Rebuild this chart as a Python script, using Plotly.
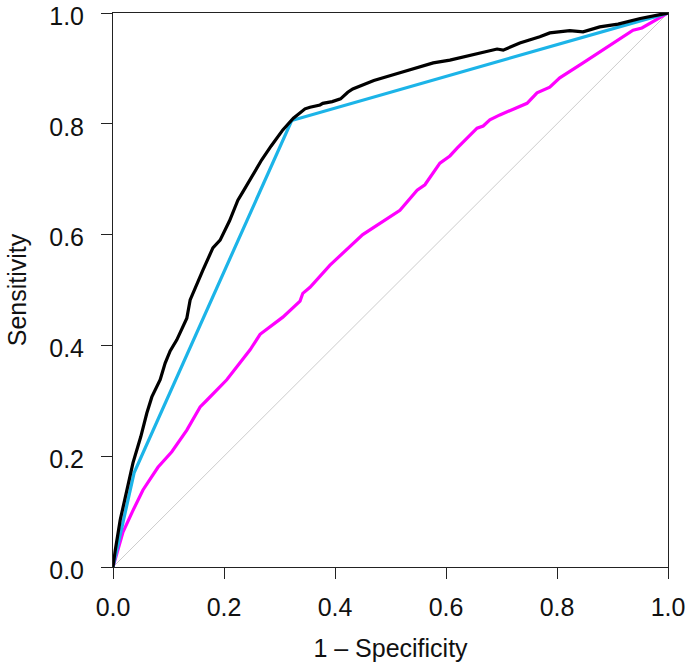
import plotly.graph_objects as go

# Black ROC curve
black_x = [0.0, 0.004, 0.013, 0.025, 0.036, 0.050, 0.061, 0.070, 0.085, 0.094, 0.103, 0.115,
           0.133, 0.139, 0.148, 0.162, 0.180, 0.193, 0.210, 0.225, 0.234, 0.259, 0.268, 0.285,
           0.306, 0.325, 0.337, 0.346, 0.355, 0.373, 0.378, 0.395, 0.410, 0.423, 0.432, 0.470,
           0.517, 0.577, 0.607, 0.638, 0.685, 0.692, 0.703, 0.733, 0.769, 0.787, 0.823, 0.847,
           0.877, 0.910, 0.950, 0.975, 1.0]
black_y = [0.0, 0.030, 0.085, 0.140, 0.188, 0.235, 0.278, 0.307, 0.338, 0.368, 0.390, 0.410,
           0.449, 0.482, 0.504, 0.536, 0.576, 0.590, 0.625, 0.662, 0.677, 0.720, 0.735, 0.760,
           0.789, 0.810, 0.819, 0.827, 0.830, 0.834, 0.837, 0.840, 0.845, 0.857, 0.863, 0.878,
           0.892, 0.910, 0.915, 0.922, 0.933, 0.935, 0.933, 0.946, 0.957, 0.964, 0.968, 0.966,
           0.975, 0.980, 0.990, 0.995, 1.0]

# Blue ROC curve (few thresholds)
blue_x = [0.0, 0.038, 0.322, 1.0]
blue_y = [0.0, 0.170, 0.806, 1.0]

# Magenta ROC curve
mag_x = [0.0, 0.010, 0.018, 0.035, 0.054, 0.081, 0.106, 0.133, 0.157, 0.169, 0.187, 0.205,
         0.247, 0.265, 0.306, 0.337, 0.342, 0.355, 0.391, 0.450, 0.517, 0.548, 0.562, 0.589,
         0.607, 0.620, 0.656, 0.667, 0.679, 0.697, 0.746, 0.764, 0.787, 0.805, 0.847, 0.877,
         0.908, 0.937, 0.953, 1.0]
mag_y = [0.0, 0.035, 0.063, 0.100, 0.139, 0.180, 0.208, 0.247, 0.289, 0.301, 0.319, 0.338,
         0.392, 0.420, 0.451, 0.480, 0.494, 0.505, 0.545, 0.600, 0.644, 0.680, 0.690, 0.729,
         0.742, 0.756, 0.792, 0.796, 0.807, 0.816, 0.837, 0.856, 0.866, 0.883, 0.910, 0.930,
         0.951, 0.969, 0.973, 1.0]

# Reference diagonal
diag_x = [0.0, 1.0]
diag_y = [0.0, 1.0]

tick_vals = [0.0, 0.2, 0.4, 0.6, 0.8, 1.0]
tick_text = ["0.0", "0.2", "0.4", "0.6", "0.8", "1.0"]

fig = go.Figure()
fig.add_trace(go.Scatter(x=diag_x, y=diag_y, mode="lines",
                         line=dict(color="#cccccc", width=1), showlegend=False))
fig.add_trace(go.Scatter(x=mag_x, y=mag_y, mode="lines",
                         line=dict(color="#ff00ff", width=3.2), showlegend=False))
fig.add_trace(go.Scatter(x=blue_x, y=blue_y, mode="lines",
                         line=dict(color="#1cb4e8", width=3.2), showlegend=False))
fig.add_trace(go.Scatter(x=black_x, y=black_y, mode="lines",
                         line=dict(color="black", width=3.2), showlegend=False))

font = dict(family="Liberation Sans, Arial, sans-serif", size=25, color="#111111")

fig.update_layout(
    width=685, height=665,
    margin=dict(l=113, r=17, t=13, b=98),
    paper_bgcolor="white", plot_bgcolor="white",
    font=font,
    xaxis=dict(range=[0, 1], tickvals=tick_vals, ticktext=tick_text,
               showgrid=False, zeroline=False, showline=True, mirror=True,
               linecolor="#222222", linewidth=1, ticks="outside", ticklen=11,
               tickcolor="#222222", tickwidth=1, ticklabelstandoff=7,
               ticklabeloverflow="allow", automargin=False,
               title=dict(text="1 – Specificity", standoff=19, font=font),
               tickfont=font),
    yaxis=dict(range=[0, 1], tickvals=tick_vals, ticktext=tick_text,
               showgrid=False, zeroline=False, showline=True, mirror=True,
               linecolor="#222222", linewidth=1, ticks="outside", ticklen=11,
               tickcolor="#222222", tickwidth=1, ticklabelstandoff=12,
               ticklabelshift=3,
               ticklabeloverflow="allow", automargin=False,
               title=dict(text="Sensitivity", standoff=15, font=font),
               tickfont=font),
)

fig.write_html("out.html", config={"displayModeBar": False},
               post_script="document.body.style.margin='0';")
